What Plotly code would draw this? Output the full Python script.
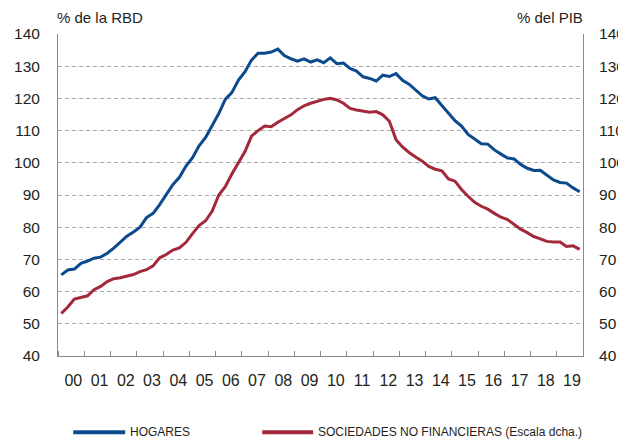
import plotly.graph_objects as go
import pandas as pd

# ---- data ----
years = list(range(2000, 2020))
quarters = [f"{y}Q{q}" for y in years for q in range(1, 5)]
tick_labels = [f"{y % 100:02d}" for y in years]

hogares = [
    65.2, 66.7, 67.0, 68.8, 69.5, 70.4, 70.7, 71.9, 73.5, 75.5, 77.2, 78.5, 80.0, 83.0, 84.3, 87.0,
    90.0, 93.2, 95.5, 99.0, 101.6, 105.3, 107.9, 111.7, 115.3, 119.7, 121.8, 125.7,
    128.3, 131.9, 134.0, 134.0, 134.4, 135.3, 133.3, 132.3, 131.6, 132.3, 131.3, 132.0,
    131.1, 132.6, 130.8, 131.0, 129.3, 128.5, 126.7, 126.2, 125.4, 127.2, 126.8, 127.7,
    125.6, 124.4, 122.7, 120.8, 119.8, 120.2, 117.8, 115.4, 113.1, 111.4, 108.8, 107.4,
    105.9, 105.8, 104.0, 102.7, 101.5, 101.2, 99.5, 98.3, 97.6, 97.7, 96.1, 94.7, 93.9, 93.7, 92.2, 91.0,
]
sociedades = [
    53.2, 55.2, 57.7, 58.2, 58.7, 60.6, 61.6, 63.1, 64.0, 64.3, 64.7, 65.3, 66.2, 66.8, 68.0, 70.5,
    71.5, 72.9, 73.6, 75.3, 78.0, 80.5, 82.0, 85.0, 90.0, 92.6, 96.5, 100.0,
    103.5, 108.3, 110.0, 111.4, 111.2, 112.6, 113.7, 114.9, 116.5, 117.7, 118.5, 119.2,
    119.7, 120.0, 119.5, 118.5, 116.9, 116.4, 116.0, 115.7, 115.9, 114.9, 112.9, 107.2,
    104.9, 103.2, 101.8, 100.5, 98.9, 98.0, 97.5, 95.0, 94.3, 91.7, 89.6, 87.7,
    86.5, 85.6, 84.3, 83.1, 82.4, 80.9, 79.4, 78.3, 77.1, 76.4, 75.6, 75.4, 75.4, 74.0, 74.2, 73.1,
]

# mid-quarter dates
periods = pd.PeriodIndex(quarters, freq="Q")
x_dates = [p.start_time + (p.end_time - p.start_time) / 2 for p in periods]

BLUE = "#0B4A8C"
RED = "#A3283B"
GRID = "#ABABAB"
AXIS = "#8A8A8A"
TXT = "#231F20"
FONT = "Liberation Sans, Arial, sans-serif"
TICK = 15.5

fig = go.Figure()
fig.add_trace(go.Scatter(x=x_dates, y=hogares, mode="lines", name="HOGARES",
                         line=dict(color=BLUE, width=3), yaxis="y"))
fig.add_trace(go.Scatter(x=x_dates, y=sociedades, mode="lines",
                         name="SOCIEDADES NO FINANCIERAS (Escala dcha.)",
                         line=dict(color=RED, width=3), yaxis="y2"))

# page body has an 8px default margin: size the figure so it fits the 626x440 window
yt = list(range(40, 141, 10))
fig.update_layout(
    width=618, height=432,
    margin=dict(l=50, r=43, t=26, b=84),
    paper_bgcolor="white", plot_bgcolor="white",
    showlegend=False,
    font=dict(family=FONT, size=16, color=TXT),
    xaxis=dict(
        type="date", automargin=False,
        range=["2000-01-01", "2020-01-01"],
        tickmode="array",
        tickvals=[f"{y}-08-01" for y in years],
        ticktext=tick_labels,
        ticks="", showgrid=False,
        showline=True, linecolor=AXIS, linewidth=1,
        ticklabelstandoff=10,
        tickfont=dict(size=16, color=TXT),
        minor=dict(ticks="inside", ticklen=5, tickcolor=AXIS, tickwidth=1,
                   tickmode="linear", tick0="2000-01-01", dtick="M12", showgrid=False),
        zeroline=False,
    ),
    yaxis=dict(
        range=[40, 140], tickvals=yt, automargin=False,
        showgrid=True, gridcolor=GRID, gridwidth=1, griddash="4px,3px",
        showline=True, linecolor=AXIS, linewidth=1,
        ticks="", ticklabelstandoff=14,
        tickfont=dict(size=TICK, color=TXT),
        zeroline=False,
    ),
    yaxis2=dict(
        range=[40, 140], tickvals=yt, overlaying="y", side="right", automargin=False,
        showgrid=False, showline=True, linecolor=AXIS, linewidth=1,
        ticks="", ticklabelstandoff=12,
        tickfont=dict(size=TICK, color=TXT),
        zeroline=False,
    ),
)

# axis titles
fig.add_annotation(text="% de la RBD", xref="paper", yref="paper", x=0, y=1,
                   xanchor="left", yanchor="bottom", yshift=6, xshift=-3,
                   showarrow=False, font=dict(size=15, color=TXT, family=FONT))
fig.add_annotation(text="% del PIB", xref="paper", yref="paper", x=1, y=1,
                   xanchor="right", yanchor="bottom", yshift=6, xshift=2,
                   showarrow=False, font=dict(size=15, color=TXT, family=FONT))

# custom legend
LEG_FONT = "Liberation Sans, Arial, sans-serif"
leg_y = -0.237
legend_items = [
    (BLUE, "HOGARES", 0.029, 0.128),
    (RED, "SOCIEDADES NO FINANCIERAS (Escala dcha.)", 0.389, 0.486),
]
for color, label, x0, x1 in legend_items:
    fig.add_shape(type="line", xref="paper", yref="paper", x0=x0, x1=x1, y0=leg_y, y1=leg_y,
                  line=dict(color=color, width=4))
    fig.add_annotation(text=label, xref="paper", yref="paper", x=x1, y=leg_y,
                       xanchor="left", yanchor="middle", xshift=3, showarrow=False,
                       font=dict(size=12, color=TXT, family=LEG_FONT))

fig.write_html("out.html")
